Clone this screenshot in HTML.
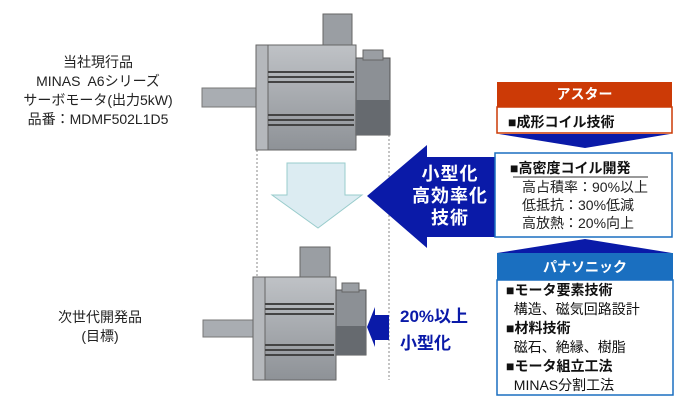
<!DOCTYPE html>
<html><head><meta charset="utf-8"><style>
body{margin:0;width:700px;height:417px;background:#fff;position:relative;overflow:hidden;font-family:"Liberation Sans","Noto Sans CJK JP",sans-serif;}
.t{position:absolute;white-space:nowrap;color:#222;}
.c{text-align:center;font-size:14px;line-height:19px;}
.b{font-weight:bold;font-size:14px;color:#111;}
.r{font-size:14px;color:#222;}
</style></head><body>
<svg width="700" height="417" style="position:absolute;left:0;top:0">
<defs>
<linearGradient id="g" x1="0" y1="0" x2="0" y2="1"><stop offset="0" stop-color="#bfc2c6"/><stop offset="1" stop-color="#8e9297"/></linearGradient>
</defs>
<line x1="257" y1="150" x2="257" y2="380" stroke="#888" stroke-dasharray="2,2"/>
<line x1="389" y1="135" x2="389" y2="380" stroke="#888" stroke-dasharray="2,2"/>
<rect x="202" y="88" width="58" height="19" fill="#a9adb2" stroke="#777"/>
<rect x="323" y="14" width="29" height="31" fill="#9a9ea3" stroke="#666"/>
<rect x="256" y="45" width="100" height="105" fill="url(#g)" stroke="#666"/>
<rect x="256" y="45" width="12" height="105" fill="#b5b8bc" stroke="#666"/>
<g stroke="#444" stroke-width="2"><line x1="268" y1="72" x2="354" y2="72"/><line x1="268" y1="77" x2="354" y2="77"/><line x1="268" y1="82" x2="354" y2="82"/><line x1="268" y1="115" x2="354" y2="115"/><line x1="268" y1="120" x2="354" y2="120"/><line x1="268" y1="125" x2="354" y2="125"/></g>
<rect x="356" y="58" width="34" height="77" fill="#8c9095" stroke="#555"/>
<rect x="363" y="50" width="20" height="10" fill="#9a9ea3" stroke="#666"/>
<rect x="356" y="100" width="34" height="35" fill="#666a6f"/>
<rect x="203" y="320" width="52" height="17" fill="#a9adb2" stroke="#777"/>
<rect x="300" y="247" width="30" height="30" fill="#9a9ea3" stroke="#666"/>
<rect x="253" y="277" width="83" height="103" fill="url(#g)" stroke="#666"/>
<rect x="253" y="277" width="12" height="103" fill="#b5b8bc" stroke="#666"/>
<g stroke="#444" stroke-width="2"><line x1="265" y1="304" x2="334" y2="304"/><line x1="265" y1="309" x2="334" y2="309"/><line x1="265" y1="314" x2="334" y2="314"/><line x1="265" y1="345" x2="334" y2="345"/><line x1="265" y1="350" x2="334" y2="350"/><line x1="265" y1="355" x2="334" y2="355"/></g>
<rect x="336" y="290" width="30" height="65" fill="#8c9095" stroke="#555"/>
<rect x="342" y="283" width="17" height="9" fill="#9a9ea3" stroke="#666"/>
<rect x="336" y="326" width="30" height="29" fill="#666a6f"/>
<polygon points="287,163 345,163 345,195 362,195 318,228 272,195 287,195" fill="#dcecf2" stroke="#9cc" stroke-width="1"/>
<polygon points="367,196 427,145 427,157 500,157 500,237 427,237 427,248" fill="#0a1aa8"/>
<polygon points="367,327 375,307 375,315 389,315 389,340 375,340 375,347" fill="#0a1aa8"/>
<rect x="497" y="82" width="175" height="25" fill="#cc3a06"/>
<rect x="497" y="107" width="175" height="26" fill="#fff" stroke="#cc3a06" stroke-width="1.5"/>
<polygon points="499,134 670,134 585,148" fill="#0a1aa8"/>
<rect x="495" y="153" width="177" height="84" fill="#fff" stroke="#1a6fc0" stroke-width="1.5"/>
<polygon points="497,253 672,253 585,239" fill="#0a1aa8"/>
<rect x="497" y="253" width="176" height="27" fill="#1a6fc0"/>
<rect x="497" y="280" width="176" height="115" fill="#fff" stroke="#1a6fc0" stroke-width="1.5"/>
<line x1="513" y1="177" x2="648" y2="177" stroke="#333"/>
</svg>
<div class="t c" style="left:18px;top:53px;width:160px;">当社現行品<br>MINAS&nbsp; A6シリーズ<br>サーボモータ(出力5kW)<br>品番：MDMF502L1D5</div>
<div class="t c" style="left:20px;top:308px;width:160px;">次世代開発品<br>(目標)</div>
<div class="t" style="left:410px;top:163px;width:80px;text-align:center;color:#fff;font-weight:bold;font-size:18px;line-height:22px;letter-spacing:1px;">小型化<br>高効率化<br>技術</div>
<div class="t" style="left:400px;top:303px;color:#0a1aa8;font-weight:bold;font-size:17px;line-height:27px;">20%以上<br>小型化</div>
<div class="t" style="left:497px;top:84px;width:175px;text-align:center;color:#fff;font-weight:bold;font-size:14px;">アスター</div>
<div class="t b" style="left:508px;top:112px;">■成形コイル技術</div>
<div class="t b" style="left:510px;top:158px;">■高密度コイル開発</div>
<div class="t r" style="left:522px;top:178px;line-height:18px;">高占積率：90%以上<br>低抵抗：30%低減<br>高放熱：20%向上</div>
<div class="t" style="left:497px;top:257px;width:176px;text-align:center;color:#fff;font-weight:bold;font-size:14px;">パナソニック</div>
<div class="t" style="left:506px;top:281px;font-size:14px;line-height:18.9px;color:#111;"><b>■モータ要素技術</b><br>&nbsp;&nbsp;構造、磁気回路設計<br><b>■材料技術</b><br>&nbsp;&nbsp;磁石、絶縁、樹脂<br><b>■モータ組立工法</b><br>&nbsp;&nbsp;MINAS分割工法</div>
</body></html>
